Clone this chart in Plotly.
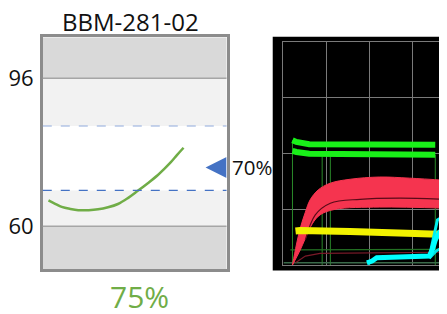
import plotly.graph_objects as go

# ---------------- left gauge panel data ----------------
gauge_title = "BBM-281-02"
tick_vals = [60, 96]
tick_text = ["60", "96"]
band_low, band_high = 60, 96            # light band limits (outside = dark gray)
limit_low, limit_high = 68.7, 84.4      # dashed limit lines
curve_x = [3.1, 7.0, 10.3, 15.0, 19.3, 25.0, 30.1, 35.5, 40.9, 46.5, 51.7, 57.0, 62.5, 66.0, 69.7, 73.0, 76.6]
curve_y = [66.3, 65.4, 64.7, 64.2, 63.9, 63.9, 64.1, 64.6, 65.4, 66.9, 68.6, 70.4, 72.4, 73.9, 75.6, 77.3, 79.1]
marker_value = 74.3
marker_label = "70%"
big_label = "75%"

# ---------------- right scope panel data ----------------
g1_x = [0.21, 0.30, 0.60, 1.50, 2.50, 3.53]
g1_y = [2.24, 2.21, 2.17, 2.16, 2.17, 2.16]
g2_x = [0.21, 0.30, 0.60, 1.50, 2.50, 3.53]
g2_y = [2.05, 2.03, 2.00, 1.99, 2.00, 1.98]
red_top_x = [0.21, 0.30, 0.39, 0.51, 0.62, 0.81, 1.09, 1.55, 2.24, 2.93, 3.79]
red_top_y = [0.00, 0.36, 0.66, 0.95, 1.17, 1.35, 1.47, 1.54, 1.58, 1.56, 1.52]
red_bot_x = [0.21, 0.39, 0.51, 0.67, 0.85, 1.20, 2.24, 3.79]
red_bot_y = [0.00, 0.27, 0.48, 0.74, 0.90, 1.00, 1.04, 1.02]
red_mid_x = [0.51, 0.74, 1.09, 1.78, 2.70, 3.79]
red_mid_y = [0.45, 0.90, 1.11, 1.18, 1.20, 1.18]
yel_x = [0.28, 0.39, 1.55, 2.70, 3.79]
yel_y = [0.61, 0.62, 0.60, 0.57, 0.55]
cy1_x = [1.94, 2.06, 2.17, 2.47, 3.39, 3.46, 3.53, 3.63, 3.79]
cy1_y = [0.04, 0.07, 0.13, 0.14, 0.16, 0.27, 0.45, 0.59, 0.66]
cy2_x = [3.39, 3.50, 3.58, 3.79]
cy2_y = [0.14, 0.54, 0.81, 0.90]
cy3_x = [3.39, 3.55, 3.79]
cy3_y = [0.12, 0.25, 0.36]
dkg_x = [0.16, 3.79]
dkg_y = [0.27, 0.28]
dkr_x = [0.28, 0.51, 0.85, 3.79]
dkr_y = [0.04, 0.16, 0.21, 0.23]
base_x = [0.0, 3.79]
base_y = [0.04, 0.04]
vlines_x = [0.21, 0.90, 1.09, 3.53]
vlines_top = [2.24, 1.95, 1.95, 1.98]

W, H = 447, 314
OFF = 8  # page body margin


def px(x):
    return (x - OFF) / W


def py(y):
    return 1 - (y - OFF) / H


fig = go.Figure()

# ----- left panel traces -----
fig.add_trace(go.Scatter(x=curve_x, y=curve_y, mode="lines",
                         line=dict(color="#70ad47", width=2.5, shape="spline", smoothing=1.0),
                         xaxis="x", yaxis="y", hoverinfo="skip"))
fig.add_trace(go.Scatter(x=[88.6], y=[marker_value], mode="markers",
                         marker=dict(symbol="arrow-left", size=21, color="#4472c4", line=dict(width=0)),
                         xaxis="x", yaxis="y", hoverinfo="skip"))


# ----- right panel traces -----
def line(xs, ys, color, width, shape="linear"):
    fig.add_trace(go.Scatter(x=xs, y=ys, mode="lines", line=dict(color=color, width=width, shape=shape),
                             xaxis="x2", yaxis="y2", hoverinfo="skip"))


for vx, vt in zip(vlines_x, vlines_top):
    line([vx, vx], [0, vt], "#2a8a2a", 1)
line(base_x, base_y, "#3a6a4a", 1.5)
line(dkg_x, dkg_y, "#237023", 1.2)
line(dkr_x, dkr_y, "#7a1a28", 1.2)
fig.add_trace(go.Scatter(x=red_bot_x, y=red_bot_y, mode="lines", line=dict(color="#f5344f", width=1, shape="spline"),
                         xaxis="x2", yaxis="y2", hoverinfo="skip"))
fig.add_trace(go.Scatter(x=red_top_x, y=red_top_y, mode="lines", line=dict(color="#f5344f", width=1, shape="spline"),
                         fill="tonexty", fillcolor="#f5344f", xaxis="x2", yaxis="y2", hoverinfo="skip"))
line(red_mid_x, red_mid_y, "#5a0a18", 1.2, "spline")
line(yel_x, yel_y, "#f2f200", 7)
line(g1_x, g1_y, "#19f019", 6)
line(g2_x, g2_y, "#19f019", 6)
line(cy3_x, cy3_y, "#00e5e5", 3)
line(cy2_x, cy2_y, "#00f0f0", 3)
line(cy1_x, cy1_y, "#00ffff", 5)

font_family = "Open Sans, Lato, sans-serif"

shapes = [
    # black scope background
    dict(type="rect", xref="paper", yref="paper", x0=px(272.5), x1=1.0, y0=py(270.5), y1=py(36.7),
         fillcolor="black", line=dict(width=0), layer="below"),
    # gauge bands
    dict(type="rect", xref="x domain", yref="y", x0=0, x1=1, y0=49.5, y1=band_low,
         fillcolor="#d9d9d9", line=dict(width=0), layer="below"),
    dict(type="rect", xref="x domain", yref="y", x0=0, x1=1, y0=band_high, y1=106,
         fillcolor="#d9d9d9", line=dict(width=0), layer="below"),
    dict(type="rect", xref="x domain", yref="y", x0=0, x1=1, y0=band_low, y1=limit_low,
         fillcolor="#f2f2f2", line=dict(width=0), layer="below"),
    dict(type="rect", xref="x domain", yref="y", x0=0, x1=1, y0=limit_high, y1=band_high,
         fillcolor="#f2f2f2", line=dict(width=0), layer="below"),
    dict(type="line", xref="x domain", yref="y", x0=0, x1=1, y0=band_low, y1=band_low,
         line=dict(color="#a6a6a6", width=1.5)),
    dict(type="line", xref="x domain", yref="y", x0=0, x1=1, y0=band_high, y1=band_high,
         line=dict(color="#a6a6a6", width=1.5)),
    dict(type="line", xref="x domain", yref="y", x0=0, x1=1, y0=limit_high, y1=limit_high,
         line=dict(color="#8faadc", width=1.2, dash="dash")),
    dict(type="line", xref="x domain", yref="y", x0=0, x1=1, y0=limit_low, y1=limit_low,
         line=dict(color="#4472c4", width=1.2, dash="dash")),
]

annotations = [
    dict(text=gauge_title, xref="paper", yref="paper", x=px(129), y=py(21.5), showarrow=False, borderpad=0,
         font=dict(size=24, color="#111111", family=font_family), xanchor="center", yanchor="middle"),
    dict(text=big_label, xref="paper", yref="paper", x=px(138), y=py(296.5), showarrow=False, borderpad=0,
         font=dict(size=30, color="#70ad47", family=font_family), xanchor="center", yanchor="middle"),
    dict(text=marker_label, xref="paper", yref="y", x=px(229), y=marker_value, showarrow=False,
         font=dict(size=20.5, color="#111111", family=font_family), xanchor="left", yanchor="middle"),
]

RX0 = 283.3
RSP = 43.3
fig.update_layout(
    width=W, height=H,
    margin=dict(l=0, r=0, t=0, b=0),
    paper_bgcolor="white", plot_bgcolor="white",
    showlegend=False,
    shapes=shapes, annotations=annotations,
    xaxis=dict(domain=[px(41), px(226)], range=[0, 100], showgrid=False, zeroline=False,
               showticklabels=False, showline=True, mirror=True, linecolor="#8c8c8c", linewidth=2.5),
    yaxis=dict(domain=[py(269.3), py(37.3)], range=[49.5, 106], tickvals=tick_vals, ticktext=tick_text,
               showgrid=False, zeroline=False, showline=True, mirror=True, linecolor="#8c8c8c", linewidth=2.5,
               ticks="", ticklabelstandoff=2, tickfont=dict(size=22, color="#111111", family=font_family)),
    xaxis2=dict(domain=[px(RX0), 1.0], range=[0, (W + OFF - RX0) / RSP], dtick=1, tick0=0, showgrid=True,
                gridcolor="#7a7a7a", gridwidth=1, zeroline=False, showticklabels=False,
                showline=True, mirror=True, linecolor="#7a7a7a", linewidth=1, anchor="y2"),
    yaxis2=dict(domain=[py(265), py(42.3)], range=[0, 4], dtick=1, tick0=0, showgrid=True,
                gridcolor="#7a7a7a", gridwidth=1, zeroline=False, showticklabels=False,
                showline=True, mirror=True, linecolor="#7a7a7a", linewidth=1, anchor="x2"),
)

fig.write_html("out.html")
